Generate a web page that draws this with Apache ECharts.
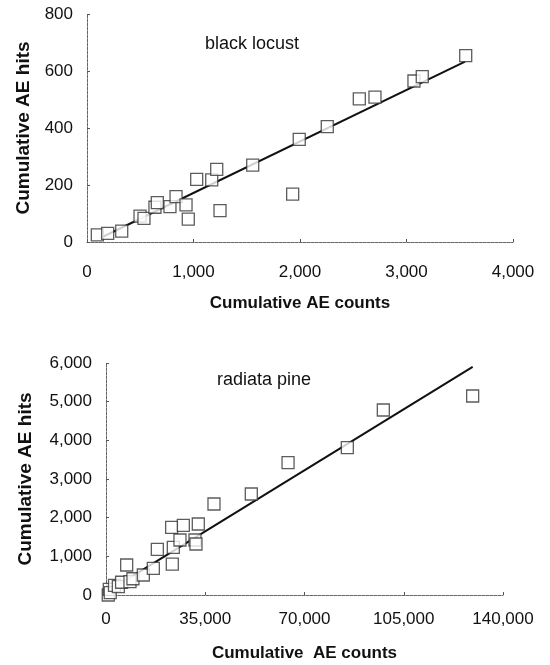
<!DOCTYPE html>
<html>
<head>
<meta charset="utf-8">
<script src="https://cdn.jsdelivr.net/npm/echarts@6/dist/echarts.min.js"></script>
<style>
html,body{margin:0;padding:0;background:#fff;}
#chart{width:550px;height:665px;}
</style>
</head>
<body>
<div id="chart"></div>
<script>
// Black locust (top panel)
const locustCounts = [97, 194, 326, 498, 535, 638, 660, 779, 836, 930, 951, 1030, 1171, 1218, 1249, 1556, 1931, 1993, 2256, 2557, 2704, 3070, 3148, 3556];
const locustHits   = [25, 30, 38, 91, 83, 122, 138, 124, 159, 130, 80, 220, 218, 255, 110, 270, 168, 360, 405, 502, 508, 565, 580, 654];
const locustFitX = [130, 3550];
const locustFitY = [15, 633];

// Radiata pine (bottom panel)
const pineCounts = [800, 1170, 1500, 3000, 4350, 5500, 7290, 8460, 9500, 13160, 16690, 18100, 23380, 23740, 23150, 26090, 27270, 31380, 31730, 32550, 38080, 51240, 64200, 85100, 97800, 129300];
const pineHits   = [0, 147, 60, 250, 215, 330, 776, 345, 420, 517, 689, 1181, 800, 1233, 1750, 1422, 1802, 1422, 1319, 1836, 2353, 2612, 3422, 3810, 4784, 5146];
const pineFitX = [2000, 129300];
const pineFitY = [160, 5900];

const topXTicks = [0, 4000, 1000];
const topYTicks = [0, 800, 200];
const botXTicks = [0, 140000, 35000];
const botYTicks = [0, 6000, 1000];

const zip = (a, b) => a.map((v, i) => [v, b[i]]);
const fmt = v => v.toLocaleString('en-US');
const FONT = '"Liberation Sans", Arial, sans-serif';

const axisCommon = {
  axisLine: {lineStyle: {color: '#666', width: 1, type: [3, 1]}},
  axisTick: {show: true, inside: true, length: 3, lineStyle: {color: '#555'}},
  splitLine: {show: false},
  axisLabel: {color: '#111', fontSize: 17, fontFamily: FONT, formatter: fmt},
  nameTextStyle: {color: '#111', fontSize: 17, fontWeight: 'bold', fontFamily: FONT},
  nameLocation: 'middle'
};
const yName = {color: '#111', fontSize: 19, fontWeight: 'bold', fontFamily: FONT};

const chart = echarts.init(document.getElementById('chart'), null, {renderer: 'canvas'});
chart.setOption({
  animation: false,
  backgroundColor: '#fff',
  title: [
    {text: 'black locust', left: 200, top: 30, textStyle: {fontSize: 18, fontWeight: 'normal', color: '#111', fontFamily: FONT}},
    {text: 'radiata pine', left: 212, top: 366, textStyle: {fontSize: 18, fontWeight: 'normal', color: '#111', fontFamily: FONT}}
  ],
  grid: [
    {left: 87, width: 426, top: 14, height: 228},
    {left: 106, width: 397, top: 363, height: 232}
  ],
  xAxis: [
    Object.assign({}, axisCommon, {gridIndex: 0, type: 'value', min: topXTicks[0], max: topXTicks[1], interval: topXTicks[2],
      name: 'Cumulative AE counts', nameGap: 53,
      axisLabel: Object.assign({}, axisCommon.axisLabel, {margin: 22})}),
    Object.assign({}, axisCommon, {gridIndex: 1, type: 'value', min: botXTicks[0], max: botXTicks[1], interval: botXTicks[2],
      name: 'Cumulative  AE counts', nameGap: 50,
      axisLabel: Object.assign({}, axisCommon.axisLabel, {margin: 16})})
  ],
  yAxis: [
    Object.assign({}, axisCommon, {gridIndex: 0, type: 'value', min: topYTicks[0], max: topYTicks[1], interval: topYTicks[2],
      name: 'Cumulative AE hits', nameGap: 52, nameTextStyle: yName,
      axisLabel: Object.assign({}, axisCommon.axisLabel, {margin: 14})}),
    Object.assign({}, axisCommon, {gridIndex: 1, type: 'value', min: botYTicks[0], max: botYTicks[1], interval: botYTicks[2],
      name: 'Cumulative AE hits', nameGap: 71, nameTextStyle: yName,
      axisLabel: Object.assign({}, axisCommon.axisLabel, {margin: 14})})
  ],
  series: [
    {type: 'line', xAxisIndex: 0, yAxisIndex: 0, data: zip(locustFitX, locustFitY), showSymbol: false, symbol: 'none',
      lineStyle: {color: '#111', width: 2}, z: 2},
    {type: 'scatter', xAxisIndex: 0, yAxisIndex: 0, data: zip(locustCounts, locustHits), symbol: 'rect', symbolSize: 12,
      itemStyle: {color: '#fff', borderColor: '#333', borderWidth: 1.3}, z: 3},
    {type: 'line', xAxisIndex: 1, yAxisIndex: 1, data: zip(pineFitX, pineFitY), showSymbol: false, symbol: 'none',
      lineStyle: {color: '#111', width: 2}, z: 2},
    {type: 'scatter', xAxisIndex: 1, yAxisIndex: 1, data: zip(pineCounts, pineHits), symbol: 'rect', symbolSize: 12,
      itemStyle: {color: '#fff', borderColor: '#333', borderWidth: 1.3}, z: 3}
  ]
});
</script>
</body>
</html>
